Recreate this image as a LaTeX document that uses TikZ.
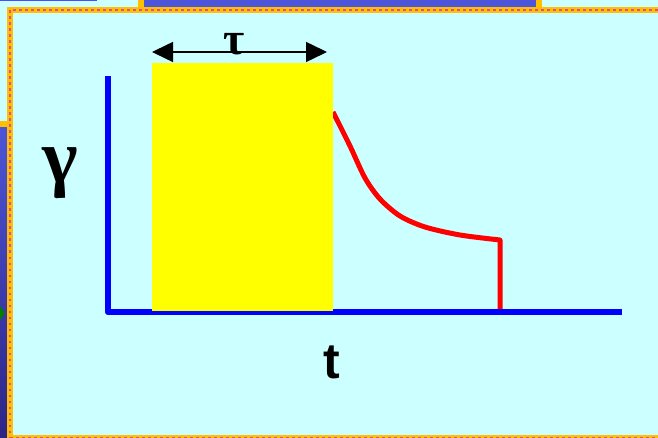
\documentclass[tikz,border=0pt]{standalone}
\usepackage{fontspec}
\setmainfont{Liberation Serif}
\newfontfamily\labelsans{Liberation Sans}
\usepackage{xcolor}
\usetikzlibrary{arrows.meta}

\definecolor{slidecyan}{HTML}{CCFFFF}
\definecolor{framegold}{HTML}{FFC000}
\definecolor{framedot}{HTML}{E04AA8}
\definecolor{barblue}{HTML}{4D55D8}
\definecolor{bardark}{HTML}{2D2585}
\definecolor{pulseyellow}{HTML}{FFFF00}

\begin{document}
\begin{tikzpicture}[
  x=1pt, y=-1pt,
  every node/.style={inner sep=0pt},
  frame/.style={draw=framegold, line width=6pt},
  framedots/.style={draw=framedot, line width=2.5pt, dash pattern=on 2.5pt off 3.5pt},
  axis/.style={draw=blue, line width=6.5pt, line join=round},
  pulse/.style={fill=pulseyellow, minimum width=181pt, minimum height=248pt, anchor=north west},
  response/.style={draw=red, line width=5pt, line join=round},
  span/.style={{Triangle[length=21pt,width=20pt]}-{Triangle[length=21pt,width=20pt]}, line width=1.5pt},
  lbl/.style={font=\fontsize{46}{46}\selectfont\bfseries}
]
\useasboundingbox (0,0) rectangle (658,438);
\clip (0,0) rectangle (658,438);

% Slide background and borders
\fill[slidecyan] (0,0) rectangle (658,438);
\fill[barblue] (144,0) rectangle (536,7);
\fill[top color=barblue, bottom color=bardark] (0,122) rectangle (7,438);
\fill[blue!70] (0,0) rectangle (97,1);
\fill[green!50!black] (0,306) -- (5,313) -- (0,320) -- cycle;
\draw[frame] (141,0) -- (141,10);
\draw[frame] (539,0) -- (539,10);
\draw[frame] (0,124.5) -- (10,124.5);
\draw[frame] (10,445) -- (10,10) -- (665,10);
\draw[frame] (10,438) -- (665,438);
\draw[framedots] (10,445) -- (10,10) -- (665,10);
\draw[framedots] (10,438) -- (665,438);

% Coordinates
\coordinate (origin) at (108,312);
\coordinate (ytop) at (108,76);
\coordinate (xend) at (622,312);
\coordinate (release) at (333,112);
\coordinate (cutoff) at (500,240);
\coordinate (cutbase) at (500,310);
\coordinate (spanL) at (152,52);
\coordinate (spanR) at (327,52);

% Response after the pulse
\draw[response] plot[smooth] coordinates {(release) (350,146) (365,178) (380,199) (400,216) (425,227) (460,235) (cutoff)} -- (cutbase);

% Axes
\draw[axis] (ytop) -- (origin) -- (xend);

% Pulse of duration tau
\node[pulse] (pulse) at (152,63) {};
\draw[span] (spanL) -- (spanR);

% Labels
\node[lbl] (tau) at (234,44) {τ};
\node[font=\fontsize{76}{76}\selectfont\bfseries] (gamma) at (60,173) {γ};
\node[font=\labelsans\fontsize{50}{50}\selectfont\bfseries] (tlabel) at (332,362) {t};
\end{tikzpicture}
\end{document}
